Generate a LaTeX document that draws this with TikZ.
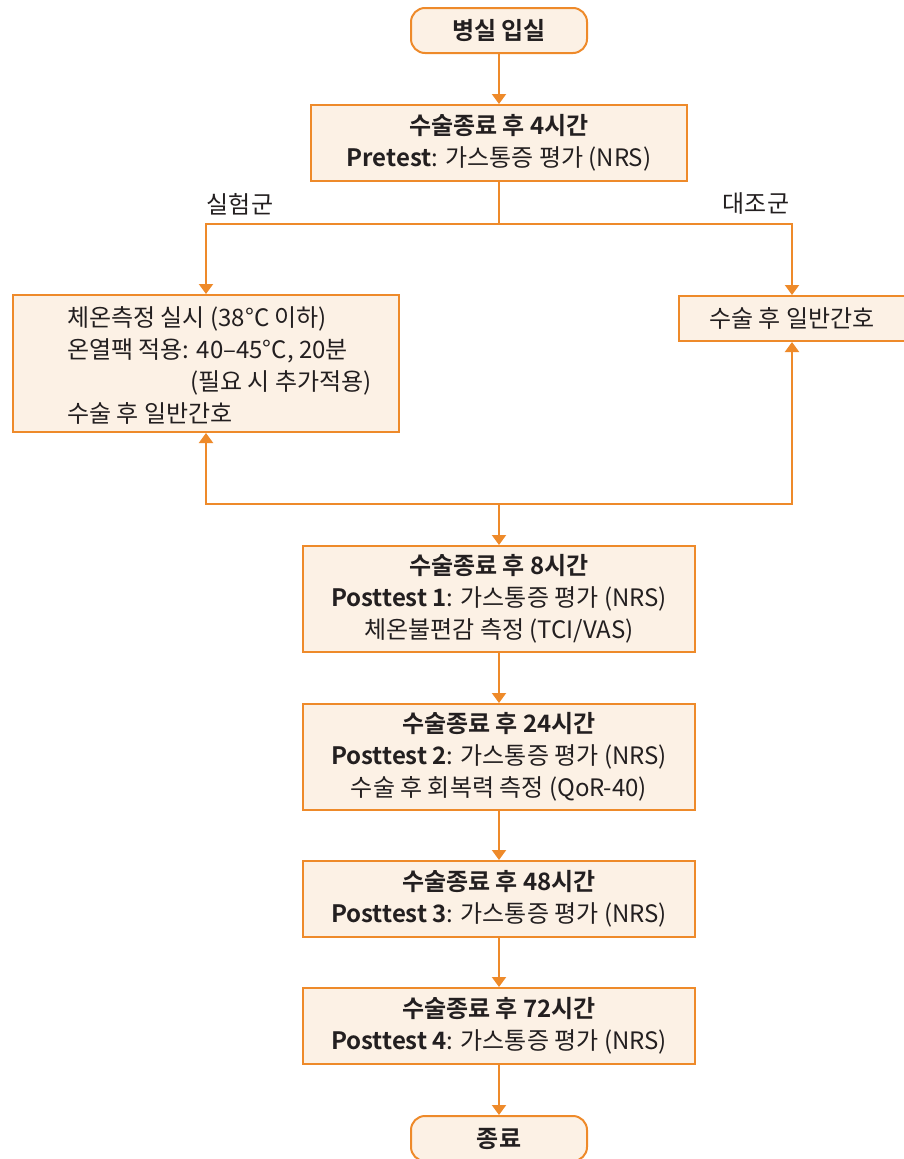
\documentclass[tikz,border=0pt]{standalone}
\usepackage{fontspec}
\setmainfont{Noto Sans CJK KR}[BoldFont={Noto Sans CJK KR Bold}]
\usetikzlibrary{arrows.meta}
\definecolor{floworange}{HTML}{EE8A2A}
\definecolor{flowfill}{HTML}{FCF1E5}
\definecolor{flowtext}{HTML}{231F20}
\tikzset{
  procbox/.style={draw=floworange, fill=flowfill, line width=2pt, text=flowtext,
    align=center, inner sep=0pt, font=\fontsize{24}{32}\selectfont},
  termbox/.style={procbox, rounded corners=14pt, minimum width=176pt, minimum height=45pt},
  flowarrow/.style={draw=floworange, line width=2pt, -{Triangle[width=14pt,length=10pt]}},
  flowline/.style={draw=floworange, line width=2pt},
  grouplabel/.style={text=flowtext, inner sep=0pt, font=\fontsize{24}{32}\selectfont}
}
\begin{document}
\begin{tikzpicture}[x=1pt, y=1pt, yscale=-1]
\useasboundingbox (0,0) rectangle (904,1159);
  \node[termbox] (admit) at (499,30.5) {\textbf{병실 입실}};
  \node[procbox, minimum width=376pt, minimum height=76pt] (pre) at (499,143)
    {\textbf{수술종료 후 4시간}\\\textbf{Pretest}: 가스통증 평가 (NRS)};
  \coordinate (split) at (499,224);
  \node[grouplabel] (labexp) at (240,204) {실험군};
  \node[grouplabel] (labctl) at (756,204) {대조군};
  \node[procbox, minimum width=386pt, minimum height=137pt] (exp) at (206,363.5) {};
  \node[grouplabel, anchor=west, align=left] (exptxt) at (67,365)
    {체온측정 실시 (38°C 이하)\\온열팩 적용: 40--45°C, 20분\\\hspace*{123pt}(필요 시 추가적용)\\수술 후 일반간호};
  \node[procbox, minimum width=226pt, minimum height=45pt] (ctl) at (792,318.5) {수술 후 일반간호};
  \coordinate (merge) at (499,504);
  \node[procbox, minimum width=392pt, minimum height=106pt] (post1) at (499,599)
    {\textbf{수술종료 후 8시간}\\\textbf{Posttest 1}: 가스통증 평가 (NRS)\\체온불편감 측정 (TCI/VAS)};
  \node[procbox, minimum width=392pt, minimum height=106pt] (post2) at (499,757)
    {\textbf{수술종료 후 24시간}\\\textbf{Posttest 2}: 가스통증 평가 (NRS)\\수술 후 회복력 측정 (QoR-40)};
  \node[procbox, minimum width=392pt, minimum height=76pt] (post3) at (499,899)
    {\textbf{수술종료 후 48시간}\\\textbf{Posttest 3}: 가스통증 평가 (NRS)};
  \node[procbox, minimum width=392pt, minimum height=76pt] (post4) at (499,1026)
    {\textbf{수술종료 후 72시간}\\\textbf{Posttest 4}: 가스통증 평가 (NRS)};
  \node[termbox] (finish) at (499,1138.5) {\textbf{종료}};
  % connectors
  \draw[flowarrow] (admit) -- (pre);
  \draw[flowline] (pre) -- (split);
  \draw[flowarrow] (split) -| (exp.north);
  \draw[flowarrow] (split) -| (ctl.north);
  \draw[flowarrow] (merge) -| (exp.south);
  \draw[flowarrow] (merge) -| (ctl.south);
  \draw[flowarrow] (merge) -- (post1);
  \draw[flowarrow] (post1) -- (post2);
  \draw[flowarrow] (post2) -- (post3);
  \draw[flowarrow] (post3) -- (post4);
  \draw[flowarrow] (post4) -- (finish);
\end{tikzpicture}
\end{document}
